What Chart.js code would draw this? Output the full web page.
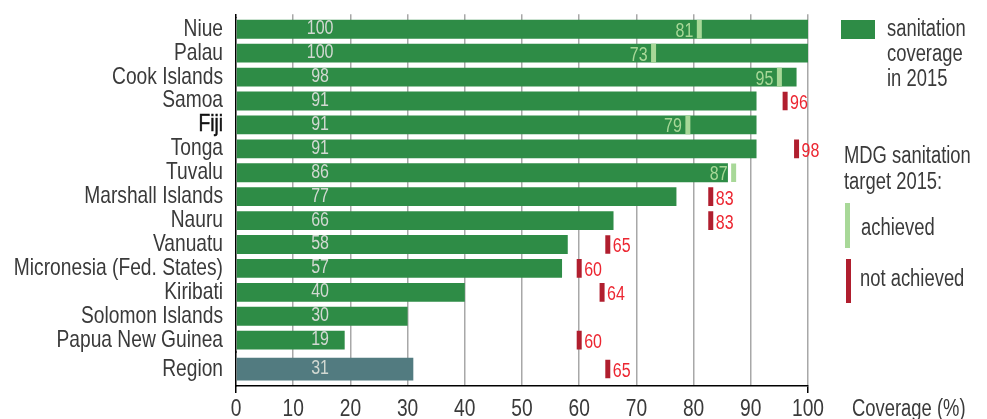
<!DOCTYPE html>
<html>
<head>
<meta charset="utf-8">
<script src="https://cdn.jsdelivr.net/npm/chart.js@4/dist/chart.umd.min.js"></script>
<style>
    html, body { margin: 0; padding: 0; background: #fff; }
    #wrap { width: 987px; height: 419px; position: relative; }
</style>
</head>
<body>
<div id="wrap"><canvas id="chart"></canvas></div>
<script>
    // données
    var countries = ['Niue', 'Palau', 'Cook Islands', 'Samoa', 'Fiji', 'Tonga', 'Tuvalu',
        'Marshall Islands', 'Nauru', 'Vanuatu', 'Micronesia (Fed. States)', 'Kiribati',
        'Solomon Islands', 'Papua New Guinea'];
    var coverage = [100, 100, 98, 91, 91, 91, 86, 77, 66, 58, 57, 40, 30, 19];
    var target = [81, 73, 95, 96, 79, 98, 87, 83, 83, 65, 60, 64, null, 60];
    var targetMet = [true, true, true, false, true, false, true, false, false, false, false, false, null, false];

    var regionLabels = ['Region'];
    var regionCoverage = [31];
    var regionTarget = [65];
    var regionTargetMet = [false];

    var xTicks = [0, 10, 20, 30, 40, 50, 60, 70, 80, 90, 100];

    // police étroite simulée : Liberation Sans compressée horizontalement
    var FONT = "'Liberation Sans', Arial, sans-serif";
    var SX = 0.8;
    var GREEN = '#2e8c46';
    var REGION = '#527b80';
    var LIGHT = '#a8d898';
    var DARKRED = '#b01e2e';
    var RED = '#ec2631';
    var TEXT = '#3a3a3a';

    function pick(tgt, met, ok) {
        return tgt.map(function (t, i) {
            return (t !== null && met[i] === ok) ? t : null;
        });
    }

    function marker(data, color, axis, ok) {
        return {
            type: 'line',
            indexAxis: 'y',
            yAxisID: axis,
            order: 0,
            data: data,
            showLine: false,
            pointStyle: 'line',
            rotation: 90,
            radius: 9.3,
            borderWidth: 5,
            borderColor: color,
            backgroundColor: color,
            achieved: ok
        };
    }

    function squeeze(ctx, text, x, y, align, stroke) {
        ctx.save();
        ctx.translate(x, y);
        ctx.scale(SX, 1);
        ctx.textAlign = align;
        ctx.textBaseline = 'alphabetic';
        ctx.fillText(text, 0, 0);
        if (stroke) {
            ctx.strokeStyle = ctx.fillStyle;
            ctx.lineWidth = stroke;
            ctx.strokeText(text, 0, 0);
        }
        ctx.restore();
    }

    // axe de catégories empilé (bordure gauche seulement)
    function rowAxis(labels, weight, order) {
        return {
            type: 'category',
            labels: labels,
            position: 'left',
            stack: 'rows',
            stackWeight: weight,
            weight: order,
            offset: true,
            grid: { display: false, drawTicks: false },
            border: { color: '#000', width: 1.5 },
            ticks: { display: false, autoSkip: false },
            afterFit: function (s) { s.width = 236; }
        };
    }

    var valueLabels = {
        id: 'valueLabels',
        afterDatasetsDraw: function (chart) {
            var ctx = chart.ctx;
            var xs = chart.scales.x;
            ctx.save();
            ctx.font = '20px ' + FONT;
            chart.data.datasets.forEach(function (ds, di) {
                var meta = chart.getDatasetMeta(di);
                meta.data.forEach(function (el, i) {
                    var v = ds.data[i];
                    if (v === null || v === undefined) return;
                    if (ds.type === 'line') {
                        if (ds.achieved) {
                            ctx.fillStyle = LIGHT;
                            squeeze(ctx, String(v), el.x - 6, el.y + 7.5, 'right');
                        } else {
                            ctx.fillStyle = RED;
                            squeeze(ctx, String(v), el.x + 5, el.y + 8, 'left');
                        }
                    } else {
                        ctx.fillStyle = '#d2d9d2';
                        squeeze(ctx, String(v), xs.getPixelForValue(14.7), el.y + 5, 'center');
                    }
                });
            });
            ctx.restore();
        }
    };

    var axisText = {
        id: 'axisText',
        afterDraw: function (chart) {
            var ctx = chart.ctx;
            var xs = chart.scales.x;
            ctx.save();
            // étiquettes des pays
            ctx.font = '24px ' + FONT;
            [['y', countries], ['y2', regionLabels]].forEach(function (pair) {
                var sc = chart.scales[pair[0]];
                pair[1].forEach(function (lab, i) {
                    var fiji = lab === 'Fiji';
                    ctx.fillStyle = fiji ? '#111' : TEXT;
                    squeeze(ctx, lab, 223, sc.getPixelForTick(i) + 6.5, 'right', fiji ? 0.5 : 0);
                });
            });
            // graduations de l'axe x
            ctx.fillStyle = TEXT;
            xTicks.forEach(function (v) {
                squeeze(ctx, String(v), xs.getPixelForValue(v), 416, 'center');
            });

            // légende
            ctx.fillStyle = GREEN;
            ctx.fillRect(841, 20, 34, 19);
            ctx.fillStyle = LIGHT;
            ctx.fillRect(845, 203, 5, 45);
            ctx.fillStyle = DARKRED;
            ctx.fillRect(846, 259, 5, 44);

            ctx.fillStyle = TEXT;
            ctx.font = '23px ' + FONT;
            squeeze(ctx, 'sanitation', 887, 36, 'left');
            squeeze(ctx, 'coverage', 887, 61, 'left');
            squeeze(ctx, 'in 2015', 887, 86, 'left');
            squeeze(ctx, 'MDG sanitation', 844, 163, 'left');
            squeeze(ctx, 'target 2015:', 844, 189, 'left');
            squeeze(ctx, 'achieved', 861, 235, 'left');
            squeeze(ctx, 'not achieved', 860, 286, 'left');
            squeeze(ctx, 'Coverage (%)', 852, 416, 'left');
            ctx.restore();
        }
    };

    new Chart(document.getElementById('chart'), {
        type: 'bar',
        data: {
            datasets: [{
                yAxisID: 'y',
                order: 1,
                data: coverage,
                backgroundColor: GREEN,
                barPercentage: 0.79,
                categoryPercentage: 1,
                grouped: false
            }, {
                yAxisID: 'y2',
                order: 1,
                data: regionCoverage,
                backgroundColor: REGION,
                barPercentage: 0.67,
                categoryPercentage: 1,
                grouped: false
            },
                marker(pick(target, targetMet, true), LIGHT, 'y', true),
                marker(pick(target, targetMet, false), DARKRED, 'y', false),
                marker(pick(regionTarget, regionTargetMet, false), DARKRED, 'y2', false)
            ]
        },
        options: {
            indexAxis: 'y',
            responsive: true,
            maintainAspectRatio: false,
            animation: false,
            events: [],
            layout: { padding: { top: 13, right: 179, bottom: 0, left: 0 } },
            plugins: {
                legend: { display: false },
                tooltip: { enabled: false }
            },
            scales: {
                x: {
                    type: 'linear',
                    position: 'bottom',
                    min: 0,
                    max: 100,
                    afterBuildTicks: function (s) {
                        s.ticks = xTicks.map(function (v) { return { value: v }; });
                    },
                    ticks: { display: false },
                    grid: {
                        color: function (c) { return c.tick && c.tick.value === 0 ? 'rgba(0,0,0,0)' : '#a8a8a8'; },
                        lineWidth: 1.5,
                        tickLength: 7,
                        tickColor: function (c) {
                            return c.tick && (c.tick.value === 0 || c.tick.value === 100) ? '#000' : 'rgba(0,0,0,0)';
                        }
                    },
                    border: { color: '#000', width: 1.5 },
                    afterFit: function (s) { s.height = 33; }
                },
                top: rowAxis([''], 3, 2),
                y: rowAxis(countries, 336, 1),
                y2: rowAxis(regionLabels, 34, 0)
            }
        },
        plugins: [valueLabels, axisText]
    });
</script>
</body>
</html>
